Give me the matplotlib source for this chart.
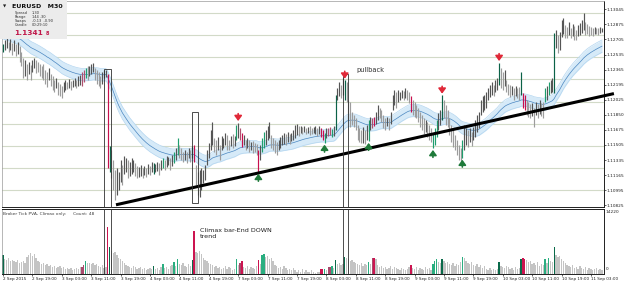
import numpy as np
import pandas as pd
import matplotlib
matplotlib.use("Agg")
import matplotlib.pyplot as plt
from matplotlib.patches import Rectangle

W, H = 625, 283

# EURUSD M30 bars, 2 Sep 2015 11:00 -> 11 Sep 2015
high = [
    1.1265, 1.1270, 1.1272, 1.1268, 1.1271, 1.1266, 1.1270, 1.1265, 1.1267, 1.1263,
    1.1256, 1.1249, 1.1247, 1.1242, 1.1245, 1.1241, 1.1247, 1.1249, 1.1247, 1.1245,
    1.1242, 1.1240, 1.1242, 1.1236, 1.1233, 1.1238, 1.1231, 1.1229, 1.1224, 1.1227,
    1.1222, 1.1220, 1.1218, 1.1222, 1.1224, 1.1222, 1.1225, 1.1223, 1.1224, 1.1227,
    1.1224, 1.1229, 1.1230, 1.1233, 1.1236, 1.1238, 1.1240, 1.1240, 1.1242, 1.1244,
    1.1238, 1.1236, 1.1233, 1.1229, 1.1233, 1.1236, 1.1236, 1.1231, 1.1150, 1.1145,
    1.1134, 1.1122, 1.1125, 1.1120, 1.1134, 1.1128, 1.1138, 1.1136, 1.1134, 1.1131,
    1.1136, 1.1134, 1.1130, 1.1127, 1.1126, 1.1128, 1.1125, 1.1127, 1.1125, 1.1129,
    1.1127, 1.1131, 1.1130, 1.1129, 1.1131, 1.1130, 1.1134, 1.1136, 1.1134, 1.1138,
    1.1137, 1.1136, 1.1139, 1.1143, 1.1147, 1.1159, 1.1151, 1.1147, 1.1143, 1.1145,
    1.1143, 1.1147, 1.1145, 1.1150, 1.1151, 1.1128, 1.1120, 1.1122, 1.1125, 1.1122,
    1.1128, 1.1145, 1.1153, 1.1168, 1.1177, 1.1159, 1.1156, 1.1160, 1.1151, 1.1161,
    1.1159, 1.1164, 1.1162, 1.1156, 1.1161, 1.1163, 1.1161, 1.1173, 1.1176, 1.1170,
    1.1164, 1.1162, 1.1156, 1.1159, 1.1156, 1.1154, 1.1155, 1.1153, 1.1152, 1.1145,
    1.1151, 1.1159, 1.1165, 1.1168, 1.1172, 1.1177, 1.1162, 1.1159, 1.1156, 1.1154,
    1.1156, 1.1160, 1.1162, 1.1164, 1.1163, 1.1165, 1.1163, 1.1164, 1.1168, 1.1173,
    1.1174, 1.1172, 1.1172, 1.1171, 1.1172, 1.1170, 1.1171, 1.1172, 1.1170, 1.1171,
    1.1172, 1.1170, 1.1172, 1.1170, 1.1168, 1.1164, 1.1170, 1.1170, 1.1171, 1.1169,
    1.1172, 1.1207, 1.1215, 1.1222, 1.1219, 1.1227, 1.1224, 1.1222, 1.1202, 1.1199,
    1.1188, 1.1185, 1.1181, 1.1173, 1.1170, 1.1168, 1.1171, 1.1168, 1.1173, 1.1179,
    1.1183, 1.1181, 1.1183, 1.1188, 1.1196, 1.1193, 1.1190, 1.1185, 1.1181, 1.1183,
    1.1181, 1.1188, 1.1207, 1.1213, 1.1211, 1.1213, 1.1211, 1.1213, 1.1212, 1.1215,
    1.1213, 1.1211, 1.1206, 1.1202, 1.1199, 1.1196, 1.1193, 1.1188, 1.1185, 1.1181,
    1.1179, 1.1177, 1.1173, 1.1170, 1.1164, 1.1170, 1.1179, 1.1187, 1.1190, 1.1207,
    1.1202, 1.1196, 1.1190, 1.1181, 1.1173, 1.1168, 1.1162, 1.1156, 1.1151, 1.1147,
    1.1156, 1.1173, 1.1170, 1.1168, 1.1170, 1.1165, 1.1171, 1.1179, 1.1185, 1.1188,
    1.1202, 1.1206, 1.1207, 1.1211, 1.1215, 1.1219, 1.1222, 1.1219, 1.1224, 1.1227,
    1.1244, 1.1238, 1.1233, 1.1236, 1.1224, 1.1220, 1.1219, 1.1218, 1.1215, 1.1218,
    1.1215, 1.1216, 1.1233, 1.1210, 1.1207, 1.1202, 1.1199, 1.1197, 1.1198, 1.1193,
    1.1199, 1.1197, 1.1202, 1.1198, 1.1199, 1.1215, 1.1218, 1.1222, 1.1224, 1.1227,
    1.1278, 1.1281, 1.1275, 1.1279, 1.1292, 1.1295, 1.1287, 1.1284, 1.1290, 1.1283,
    1.1288, 1.1286, 1.1281, 1.1287, 1.1289, 1.1292, 1.1300, 1.1290, 1.1288, 1.1286,
    1.1284, 1.1283, 1.1284, 1.1283, 1.1283, 1.1284, 1.1283,
]
low = [
    1.1256, 1.1258, 1.1261, 1.1256, 1.1258, 1.1253, 1.1257, 1.1252, 1.1254, 1.1245,
    1.1240, 1.1227, 1.1229, 1.1224, 1.1231, 1.1224, 1.1233, 1.1238, 1.1232, 1.1233,
    1.1229, 1.1227, 1.1224, 1.1220, 1.1216, 1.1224, 1.1218, 1.1213, 1.1211, 1.1215,
    1.1207, 1.1206, 1.1204, 1.1211, 1.1213, 1.1214, 1.1215, 1.1213, 1.1216, 1.1218,
    1.1215, 1.1218, 1.1219, 1.1218, 1.1222, 1.1227, 1.1224, 1.1229, 1.1231, 1.1233,
    1.1224, 1.1220, 1.1218, 1.1215, 1.1220, 1.1227, 1.1228, 1.1125, 1.1120, 1.1113,
    1.1100, 1.1088, 1.1094, 1.1100, 1.1109, 1.1105, 1.1118, 1.1120, 1.1113, 1.1116,
    1.1118, 1.1120, 1.1116, 1.1113, 1.1114, 1.1116, 1.1113, 1.1117, 1.1114, 1.1118,
    1.1117, 1.1120, 1.1118, 1.1120, 1.1121, 1.1117, 1.1122, 1.1125, 1.1122, 1.1126,
    1.1128, 1.1122, 1.1127, 1.1130, 1.1134, 1.1139, 1.1136, 1.1134, 1.1131, 1.1134,
    1.1130, 1.1136, 1.1131, 1.1136, 1.1131, 1.1105, 1.1094, 1.1092, 1.1100, 1.1108,
    1.1111, 1.1128, 1.1136, 1.1145, 1.1151, 1.1143, 1.1139, 1.1145, 1.1134, 1.1145,
    1.1147, 1.1151, 1.1145, 1.1145, 1.1150, 1.1147, 1.1150, 1.1156, 1.1159, 1.1156,
    1.1148, 1.1151, 1.1145, 1.1147, 1.1143, 1.1145, 1.1142, 1.1143, 1.1139, 1.1120,
    1.1134, 1.1143, 1.1147, 1.1151, 1.1156, 1.1159, 1.1147, 1.1145, 1.1142, 1.1139,
    1.1145, 1.1147, 1.1151, 1.1152, 1.1151, 1.1154, 1.1152, 1.1155, 1.1156, 1.1159,
    1.1162, 1.1161, 1.1164, 1.1163, 1.1165, 1.1163, 1.1164, 1.1162, 1.1163, 1.1164,
    1.1163, 1.1161, 1.1163, 1.1160, 1.1156, 1.1153, 1.1159, 1.1161, 1.1162, 1.1160,
    1.1161, 1.1168, 1.1202, 1.1206, 1.1204, 1.1207, 1.1202, 1.1199, 1.1179, 1.1171,
    1.1173, 1.1171, 1.1168, 1.1156, 1.1154, 1.1153, 1.1153, 1.1152, 1.1156, 1.1155,
    1.1168, 1.1170, 1.1172, 1.1175, 1.1179, 1.1181, 1.1177, 1.1170, 1.1168, 1.1172,
    1.1168, 1.1175, 1.1190, 1.1196, 1.1193, 1.1199, 1.1202, 1.1204, 1.1202, 1.1204,
    1.1202, 1.1198, 1.1188, 1.1185, 1.1182, 1.1181, 1.1177, 1.1171, 1.1168, 1.1163,
    1.1165, 1.1160, 1.1156, 1.1154, 1.1147, 1.1151, 1.1160, 1.1168, 1.1173, 1.1179,
    1.1181, 1.1173, 1.1171, 1.1162, 1.1154, 1.1148, 1.1145, 1.1139, 1.1134, 1.1131,
    1.1136, 1.1145, 1.1151, 1.1148, 1.1154, 1.1150, 1.1156, 1.1160, 1.1165, 1.1170,
    1.1185, 1.1188, 1.1190, 1.1193, 1.1202, 1.1205, 1.1207, 1.1206, 1.1211, 1.1213,
    1.1219, 1.1215, 1.1213, 1.1218, 1.1211, 1.1207, 1.1205, 1.1207, 1.1202, 1.1206,
    1.1204, 1.1202, 1.1207, 1.1193, 1.1190, 1.1185, 1.1182, 1.1181, 1.1184, 1.1171,
    1.1185, 1.1181, 1.1186, 1.1184, 1.1181, 1.1199, 1.1202, 1.1207, 1.1210, 1.1211,
    1.1210, 1.1261, 1.1255, 1.1258, 1.1273, 1.1276, 1.1272, 1.1272, 1.1275, 1.1272,
    1.1274, 1.1270, 1.1270, 1.1274, 1.1275, 1.1278, 1.1281, 1.1275, 1.1276, 1.1274,
    1.1275, 1.1274, 1.1276, 1.1276, 1.1275, 1.1278, 1.1279,
]
# broker tick volume per bar
volume = [
    4000, 3110, 2890, 3330, 2660, 2890, 2660, 2440, 2890, 2220,
    2440, 2660, 2220, 3550, 4000, 4440, 3770, 4220, 3330, 2660,
    2440, 2000, 2220, 1780, 2000, 1550, 1780, 1330, 1550, 1110,
    1330, 1550, 1110, 1330, 890, 1110, 890, 1110, 670, 890,
    1110, 890, 1330, 1330, 1780, 2660, 2220, 2220, 2000, 2220,
    1780, 2000, 1550, 1330, 1780, 1110, 1330, 10210, 5770, 4880,
    4440, 4660, 4000, 3330, 3110, 2660, 2220, 1780, 1550, 1330,
    1110, 1550, 1330, 890, 1110, 1330, 890, 1110, 670, 890,
    1110, 890, 1550, 890, 1110, 670, 1330, 2000, 1110, 1330,
    890, 1550, 1780, 2440, 1550, 3110, 2000, 1780, 2220, 1550,
    1330, 2000, 1550, 2890, 9320, 4660, 4440, 4880, 4220, 3330,
    2890, 2660, 2220, 2000, 1780, 1330, 1550, 1110, 1330, 890,
    1110, 1550, 890, 1330, 1110, 670, 890, 3110, 1780, 2220,
    2660, 1330, 1110, 1550, 890, 1330, 1110, 890, 1550, 2890,
    2000, 4000, 4220, 3550, 3770, 3110, 3330, 2660, 1780, 1550,
    1110, 1330, 890, 1550, 1110, 670, 890, 670, 1110, 670,
    440, 670, 440, 890, 440, 670, 440, 440, 670, 440,
    220, 440, 440, 890, 890, 890, 670, 1330, 1330, 1550,
    1110, 2890, 2000, 2220, 1780, 2000, 3550, 3330, 3110, 2660,
    2890, 2440, 2220, 2000, 1780, 2220, 1550, 2000, 1780, 2440,
    2000, 3330, 3330, 3110, 1780, 1330, 1550, 1110, 1330, 890,
    1110, 1550, 890, 1330, 1110, 890, 670, 1110, 890, 670,
    890, 1330, 1780, 1110, 890, 1330, 670, 1110, 890, 670,
    1330, 890, 1110, 670, 2000, 2660, 3110, 2440, 2220, 3110,
    2660, 2220, 2440, 2000, 1780, 2220, 1550, 2000, 1780, 2440,
    3550, 3330, 2660, 2220, 2000, 2440, 1780, 1550, 2000, 1330,
    1780, 1110, 1550, 890, 670, 1110, 670, 890, 670, 890,
    2440, 1550, 1330, 1110, 1550, 1330, 890, 1110, 670, 1330,
    890, 1110, 3110, 3330, 3110, 2890, 2440, 2660, 2000, 2220,
    1780, 2440, 1550, 2000, 1780, 3110, 2220, 3330, 2660, 2440,
    5770, 4000, 3550, 3770, 3110, 2660, 2220, 1780, 1550, 1330,
    1780, 1110, 1330, 890, 1550, 1110, 890, 1330, 670, 1110,
    890, 670, 890, 1110, 670, 890, 670,
]

# PVA bar classes (bar indices)
green_bars = [45, 87, 93, 95, 127, 141, 142, 175, 179, 199, 234, 235, 236, 250, 295, 297]
dark_green_bars = [0, 58, 82, 103, 181, 186, 239, 270, 282, 300]
climax_bars = [57, 104, 130, 139, 173, 174, 202, 222, 283, 284]
maroon_bars = [43, 44, 129, 177, 178, 201]
sell_arrows = [128, 186, 239, 270]
buy_arrows = [139, 175, 199, 234, 250]

date_labels = ["2 Sep 2015", "2 Sep 19:00", "3 Sep 03:00", "3 Sep 11:00", "3 Sep 19:00",
               "4 Sep 03:00", "4 Sep 11:00", "4 Sep 19:00", "7 Sep 03:00", "7 Sep 11:00",
               "7 Sep 19:00", "8 Sep 03:00", "8 Sep 11:00", "8 Sep 19:00", "9 Sep 03:00",
               "9 Sep 11:00", "9 Sep 19:00", "10 Sep 03:00", "10 Sep 11:00", "10 Sep 19:00",
               "11 Sep 03:00"]
price_labels = ["1.13045", "1.12875", "1.12705", "1.12535", "1.12365", "1.12195", "1.12025",
                "1.11850", "1.11675", "1.11505", "1.11335", "1.11165", "1.10995", "1.10825"]
round_levels = [1.1100, 1.1125, 1.1150, 1.1175, 1.1200, 1.1225, 1.1250, 1.1275, 1.1300]
band_seed = 1.1279
band_half = 0.0007
trend_bars = [61.5, 332.5]
trend_prices = [1.1083, 1.1209]
vol_max = 14220

bars = pd.DataFrame({"high": high, "low": low, "volume": volume})
bars["mid"] = (bars["high"] + bars["low"]) / 2
n = len(bars)
idx = np.arange(n)

cls = np.array(["n"] * n, dtype=object)
cls[green_bars] = "g"
cls[dark_green_bars] = "G"
cls[climax_bars] = "r"
cls[maroon_bars] = "m"

up = bars["mid"].diff().fillna(0) >= 0
price_col = {"g": "#1f9e6e", "G": "#0b6247", "r": "#c8104e", "m": "#b0506e"}
vol_col = {"g": "#2aae80", "G": "#0a6a4a", "r": "#cc1450", "m": "#a84a6c", "n": "#c4c4c4"}
pcols = [price_col.get(c, "#555555" if u else "#9c9c9c") for c, u in zip(cls, up)]
vcols = [vol_col[c] for c in cls]

# moving average band
ema = pd.concat([pd.Series([band_seed]), bars["mid"]], ignore_index=True)
ema = ema.ewm(span=35, adjust=False).mean().iloc[1:].to_numpy()

fig = plt.figure(figsize=(W / 100, H / 100), dpi=100)
fig.patch.set_facecolor("white")


def fx(x):
    return x / W


def fy(y):
    return 1 - y / H


ax = fig.add_axes([fx(2), fy(207), 602 / W, 206 / H])
axv = fig.add_axes([fx(2), fy(273.5), 602 / W, 64.5 / H])

xlim = (-0.54, 327.1)
ax.set_xlim(*xlim)
ax.set_ylim(1.10805, 1.13139)

for lv in round_levels:
    ax.axhline(lv, color="#d2dac8", lw=0.8, zorder=0)

ax.fill_between(idx, ema - band_half, ema + band_half, color="#d6eaf8", lw=0, zorder=1)
ax.plot(idx, ema - band_half, color="#b4d6f0", lw=0.5, zorder=1)
ax.plot(idx, ema + band_half, color="#b4d6f0", lw=0.5, zorder=1)
ax.plot(idx, ema, color="#4a86c0", lw=0.5, zorder=2)

ax.vlines(idx, bars["low"], bars["high"], colors=pcols, lw=0.85, zorder=3)

ax.plot(trend_bars, trend_prices, color="black", lw=2.2, solid_capstyle="butt",
        zorder=5, clip_on=False)

# boxes around key bars
box_kw = dict(fill=False, edgecolor="#303030", lw=0.6, zorder=6)
ax.add_patch(Rectangle((54.9, 1.10805), 3.9, 1.1237 - 1.10805, clip_on=False, **box_kw))
ax.add_patch(Rectangle((102.9, 1.1085), 3.2, 1.1188 - 1.1085, **box_kw))
ax.add_patch(Rectangle((185.0, 1.10805), 2.8, 1.1231 - 1.10805, clip_on=False, **box_kw))
for xb in [54.9, 58.8, 185.0, 187.8]:
    axv.axvline(xb, color="#303030", lw=0.6, zorder=6)

for k in sell_arrows:
    ax.annotate("", xy=(k, bars["high"][k]), xytext=(0, 6.5), textcoords="offset points",
                arrowprops=dict(arrowstyle="-|>,head_width=0.22,head_length=0.3",
                                color="#e02838", lw=1.2, shrinkA=0, shrinkB=1.2), zorder=7)
for k in buy_arrows:
    ax.annotate("", xy=(k, bars["low"][k]), xytext=(0, -6.5), textcoords="offset points",
                arrowprops=dict(arrowstyle="-|>,head_width=0.22,head_length=0.3",
                                color="#1f7a3a", lw=1.2, shrinkA=0, shrinkB=1.2), zorder=7)

ax.text(192.5, 1.1236, "pullback", fontsize=4.8, color="#303030", va="center")

ax.yaxis.tick_right()
ax.set_yticks(np.linspace(1.10825, 1.13045, 14))
ax.set_yticklabels(price_labels[::-1])
ax.tick_params(axis="y", length=1.2, width=0.5, pad=0.6, labelsize=3.05, colors="#202020")
ax.set_xticks([])
for s in ["left", "top"]:
    ax.spines[s].set_color("#9a9a9a")
    ax.spines[s].set_linewidth(0.5)
for s in ["right", "bottom"]:
    ax.spines[s].set_color("#202020")
    ax.spines[s].set_linewidth(0.7)

# volume panel
axv.set_xlim(*xlim)
axv.set_ylim(0, vol_max)
axv.bar(idx, bars["volume"], width=0.72, color=vcols, linewidth=0, zorder=2)
axv.set_yticks([])
axv.set_xticks(range(0, 321, 16))
axv.set_xticklabels(date_labels)
axv.tick_params(axis="x", length=1.5, width=0.5, pad=0.8, labelsize=2.95, colors="#202020")
for lab in axv.get_xticklabels():
    lab.set_ha("left")
for s in ["left"]:
    axv.spines[s].set_color("#9a9a9a")
    axv.spines[s].set_linewidth(0.5)
for s in ["right", "top", "bottom"]:
    axv.spines[s].set_color("#202020")
    axv.spines[s].set_linewidth(0.7)

axv.text(0.2, vol_max * 0.96, "Broker Tick PVA, Climax only:     Count: 48",
         fontsize=3.2, color="#404040", va="top")
axv.text(107.2, vol_max * 0.71, "Climax bar-End DOWN\ntrend", fontsize=4.6,
         color="#202020", va="top", linespacing=1.25)
fig.text(fx(606), fy(212), "14220", fontsize=3.05, color="#202020", va="center")
fig.text(fx(606), fy(269), "0", fontsize=3.05, color="#202020", va="center")

# symbol info box
fig.add_artist(Rectangle((0, fy(39)), fx(67), 39 / H, transform=fig.transFigure,
                         facecolor="#ececec", edgecolor="none", zorder=10))
fig.text(fx(3), fy(6.5), "\u25bc", fontsize=3.0, color="#202020", va="center", zorder=11)
fig.text(fx(12), fy(6.5), "EURUSD   M30", fontsize=4.5, fontweight="bold",
         color="#101010", va="center", zorder=11)
info_rows = [("Spread", "1.30"), ("Range", "144 .30"), ("Swaps", "-0.13  -0.90"),
             ("Candle", "00:29:10")]
for r, (lab, val) in enumerate(info_rows):
    yy = 12.6 + r * 4.0
    fig.text(fx(15), fy(yy), lab, fontsize=2.6, color="#303030", va="center", zorder=11)
    fig.text(fx(32), fy(yy), val, fontsize=2.6, color="#303030", va="center", zorder=11)
fig.text(fx(14), fy(33), "1.1341", fontsize=5.3, fontweight="bold", color="#c0184a",
         va="center", zorder=11)
fig.text(fx(46), fy(33.5), "8", fontsize=3.6, fontweight="bold", color="#c0184a",
         va="center", zorder=11)

fig.savefig("out.png", dpi=100)
